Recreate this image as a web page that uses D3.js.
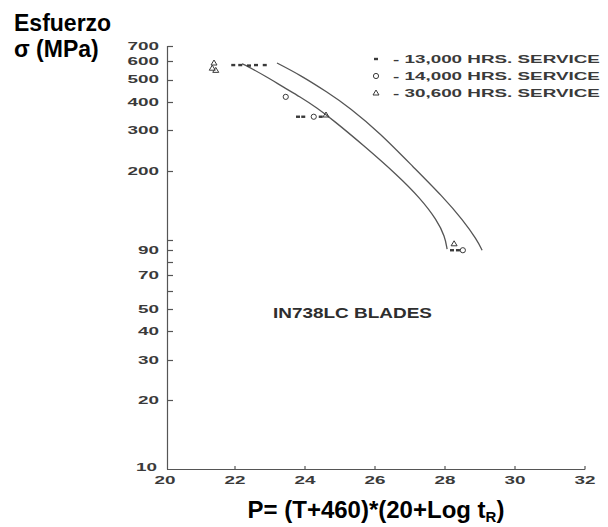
<!DOCTYPE html>
<html>
<head>
<meta charset="utf-8">
<script src="https://cdn.jsdelivr.net/npm/d3@7/dist/d3.min.js"></script>
<style>
  html, body { margin: 0; padding: 0; background: #fff; }
  svg { display: block; }
  text { font-family: "Liberation Sans", Arial, sans-serif; }
</style>
</head>
<body>
<svg id="chart" width="608" height="527"></svg>
<script>
// Larson-Miller master curves for IN738LC blades (P vs. stress, log scale)
const xTicks = [20, 22, 24, 26, 28, 30, 32];
const yTicks = [20, 30, 40, 50, 60, 70, 80, 90, 100, 200, 300, 400, 500, 600, 700];
const yTickLabels = [700, 600, 500, 400, 300, 200, 90, 70, 50, 40, 30, 20, 10];

// lower (left) band curve: [P, stress MPa]
const curveLower = [
  [22.2, 585], [22.34, 573], [22.91, 513], [23.37, 464], [23.86, 420], [24.34, 376],
  [24.80, 333], [25.66, 259], [26.63, 192], [27.29, 152], [27.77, 122],
  [28.0, 103], [28.06, 91]
];
// upper (right) band curve
const curveUpper = [
  [23.2, 590], [23.86, 523], [24.63, 441], [25.29, 376], [26.14, 292],
  [27.09, 208], [27.94, 154], [28.51, 122], [28.91, 100], [29.06, 90]
];

// test points by service time
const pts13000 = [
  [21.95, 578], [22.15, 578], [22.4, 575], [22.6, 578], [22.85, 578],
  [23.8, 344], [23.95, 344], [24.45, 344], [28.2, 90], [28.37, 90]
];
const pts14000 = [[23.45, 420], [24.25, 344], [28.51, 90]];
const pts30600 = [[21.4, 590], [21.35, 560], [21.45, 548], [24.6, 350], [28.26, 96]];

const legendItems = [
  { label: "- 13,000 HRS. SERVICE", shape: "square" },
  { label: "- 14,000 HRS. SERVICE", shape: "circle" },
  { label: "- 30,600 HRS. SERVICE", shape: "triangle" }
];

const svg = d3.select("#chart");
const ink = "#3a3a3a";
const lineInk = "#555";

const x = d3.scaleLinear().domain([20, 32]).range([165, 585]);
const y = d3.scaleLog().domain([10, 700]).range([469, 46]);

// wide, squat lettering: stretch each label to a per-character width
function wide(sel, perChar) {
  sel.each(function () {
    const t = d3.select(this);
    const n = t.text().length;
    t.attr("textLength", n * perChar).attr("lengthAdjust", "spacingAndGlyphs");
  });
}

// ---- axes ----
const axes = svg.append("g").attr("stroke", lineInk).attr("stroke-width", 1.2).attr("fill", "none");
axes.append("line").attr("x1", 167.5).attr("x2", 167.5).attr("y1", y(700)).attr("y2", 469.5);
axes.append("line").attr("x1", 167).attr("x2", x(32)).attr("y1", 469.5).attr("y2", 469.5);

axes.selectAll("line.yt").data(yTicks).join("line")
  .attr("class", "yt")
  .attr("x1", 167.5).attr("x2", 173)
  .attr("y1", d => Math.round(y(d)) + 0.5).attr("y2", d => Math.round(y(d)) + 0.5);

axes.selectAll("line.xt").data(xTicks.slice(1)).join("line")
  .attr("class", "xt")
  .attr("x1", d => x(d)).attr("x2", d => x(d))
  .attr("y1", 469.5).attr("y2", 466);

// y tick labels
svg.append("g").selectAll("text").data(yTickLabels).join("text")
  .attr("x", d => d === 10 ? 157 : 159)
  .attr("y", d => d === 10 ? y(d) - 2 : y(d))
  .attr("dy", "0.36em")
  .attr("text-anchor", "end")
  .attr("font-size", 11)
  .attr("font-weight", "bold")
  .attr("fill", ink)
  .text(d => d)
  .call(wide, 10.5);

// x tick labels
svg.append("g").selectAll("text").data(xTicks).join("text")
  .attr("x", d => x(d))
  .attr("y", 484)
  .attr("text-anchor", "middle")
  .attr("font-size", 11)
  .attr("font-weight", "bold")
  .attr("fill", ink)
  .text(d => d)
  .call(wide, 10.5);

// ---- curves ----
const line = d3.line()
  .x(d => x(d[0]))
  .y(d => y(d[1]))
  .curve(d3.curveBasis);

svg.append("g").attr("fill", "none").attr("stroke", lineInk).attr("stroke-width", 1.3)
  .selectAll("path").data([curveLower, curveUpper]).join("path")
  .attr("d", line);

// ---- markers ----
const mk = svg.append("g").attr("stroke", ink).attr("fill", "none").attr("stroke-width", 1);

function drawSquare(g, cx, cy) {
  g.append("rect").attr("x", cx - 2).attr("y", cy - 1.2).attr("width", 4).attr("height", 2.4)
    .attr("fill", ink).attr("stroke", "none");
}
function drawCircle(g, cx, cy) {
  g.append("circle").attr("cx", cx).attr("cy", cy).attr("r", 2.6);
}
function drawTriangle(g, cx, cy) {
  g.append("path").attr("d", `M${cx},${cy - 3}L${cx + 3},${cy + 2}L${cx - 3},${cy + 2}Z`);
}

pts13000.forEach(d => drawSquare(mk, x(d[0]), y(d[1])));
pts14000.forEach(d => drawCircle(mk, x(d[0]), y(d[1])));
pts30600.forEach(d => drawTriangle(mk, x(d[0]), y(d[1])));

// ---- legend ----
const leg = svg.append("g");
legendItems.forEach((it, i) => {
  const cy = 59 + i * 17;
  const g = leg.append("g").attr("stroke", ink).attr("fill", "none").attr("stroke-width", 1);
  if (it.shape === "square") drawSquare(g, 376, cy);
  if (it.shape === "circle") drawCircle(g, 376, cy);
  if (it.shape === "triangle") drawTriangle(g, 376, cy);
  leg.append("text")
    .attr("x", 393).attr("y", cy + 4)
    .attr("font-size", 11).attr("font-weight", "bold").attr("fill", ink)
    .text(it.label)
    .call(wide, 9.85);
});

// ---- annotation ----
svg.append("text")
  .attr("x", 273).attr("y", 318)
  .attr("font-size", 15).attr("font-weight", "bold").attr("fill", "#2e2e2e")
  .text("IN738LC BLADES")
  .call(wide, 11.35);

// ---- axis titles ----
const title = svg.append("text")
  .attr("x", 14).attr("font-size", 23).attr("font-weight", "bold").attr("fill", "#000");
title.append("tspan").attr("x", 14).attr("y", 31).text("Esfuerzo");
title.append("tspan").attr("x", 14).attr("y", 57).text("σ (MPa)");

const xt = svg.append("text")
  .attr("x", 376).attr("y", 518)
  .attr("text-anchor", "middle")
  .attr("font-size", 24).attr("font-weight", "bold").attr("fill", "#000");
xt.append("tspan").text("P= (T+460)*(20+Log t");
xt.append("tspan").attr("font-size", 15).attr("dy", 4).text("R");
xt.append("tspan").attr("dy", -4).text(")");
</script>
</body>
</html>
